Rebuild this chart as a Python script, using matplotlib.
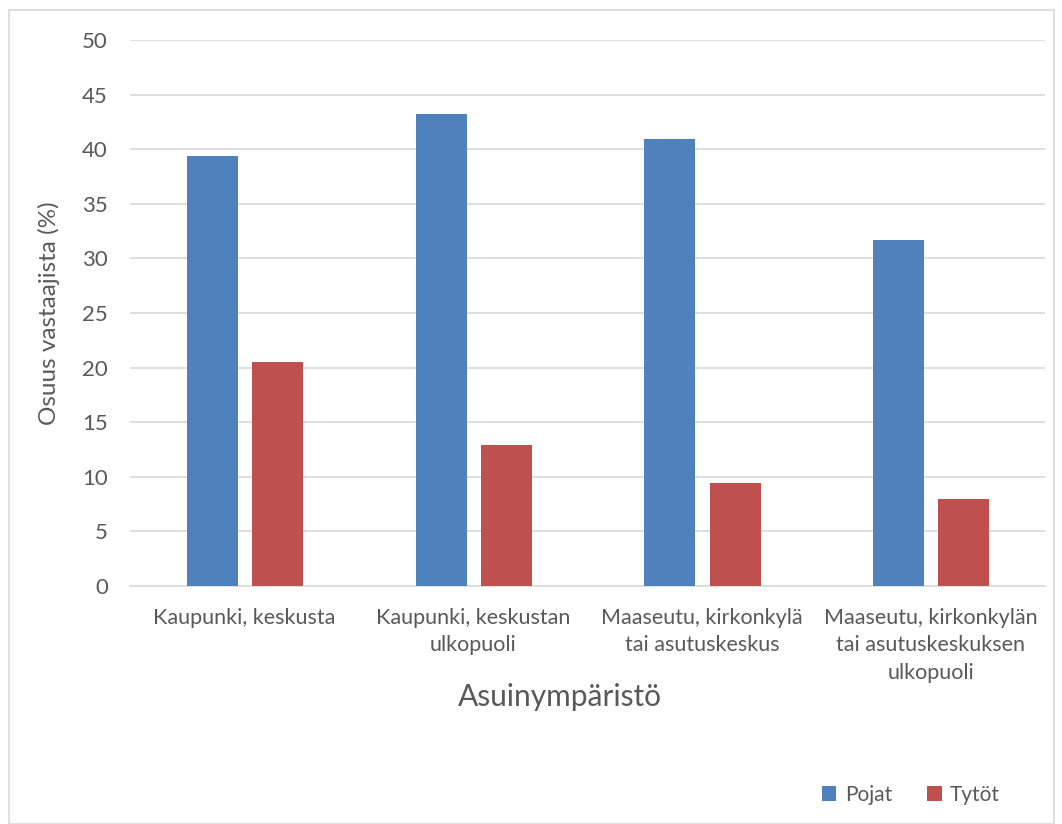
import numpy as np
import matplotlib.pyplot as plt
from matplotlib.patches import Rectangle

# === Data ===
categories = ['Kaupunki, keskusta', 'Kaupunki, keskustan\nulkopuoli',
              'Maaseutu, kirkonkylä\ntai asutuskeskus',
              'Maaseutu, kirkonkylän\ntai asutuskeskuksen\nulkopuoli']
pojat = [39.4, 43.2, 40.9, 31.7]
tytot = [20.5, 12.9, 9.4, 8.0]
yticks = list(range(0, 55, 5))

plt.rcParams['font.family'] = ['Lato', 'DejaVu Sans']
text_col = '#595959'

fig = plt.figure(figsize=(10.62, 8.24), dpi=100)
fig.patches.append(Rectangle((9 / 1062, 0.0), 1045 / 1062, (814) / 824,
                             transform=fig.transFigure, fill=False,
                             edgecolor='#d9d9d9', linewidth=1.2))
ax = fig.add_axes([130 / 1062, (824 - 586) / 824, 915 / 1062, 546 / 824])

x = np.arange(len(categories))
ax.bar(x - 0.14, pojat, width=0.223, color='#4f81bd', label='Pojat', zorder=3)
ax.bar(x + 0.145, tytot, width=0.223, color='#c0504d', label='Tytöt', zorder=3)

ax.set_xlim(-0.5, 3.5)
ax.set_ylim(0, 50)
ax.set_yticks(yticks)
ax.yaxis.grid(True, color='#d9d9d9', linewidth=1.2, zorder=0)
for s in ['top', 'right', 'left']:
    ax.spines[s].set_visible(False)
ax.spines['bottom'].set_color('#d9d9d9')
ax.spines['bottom'].set_linewidth(1.2)
ax.tick_params(axis='y', length=0, labelsize=16, colors=text_col, pad=16)
ax.tick_params(axis='x', length=0, labelsize=15.5, colors=text_col, pad=16)
ax.set_xticks(x)
ax.set_xticklabels(categories, linespacing=1.45)

ax.set_ylabel('Osuus vastaajista (%)', fontsize=17.5, color=text_col, labelpad=16)
fig.text(560 / 1062, (824 - 697) / 824, 'Asuinympäristö', fontsize=21.5,
         color=text_col, ha='center', va='center')

leg = fig.legend(loc='center', bbox_to_anchor=(911 / 1062, (824 - 795) / 824),
                 ncol=2, frameon=False, fontsize=15, handlelength=0.7,
                 handleheight=0.7, columnspacing=1.7, handletextpad=0.4)
for t in leg.get_texts():
    t.set_color(text_col)

fig.savefig('out.png', dpi=100)
